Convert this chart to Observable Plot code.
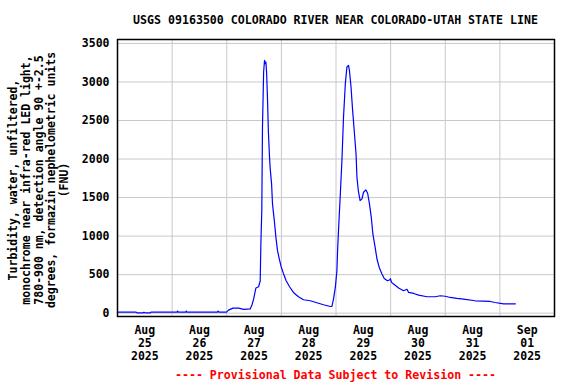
<!DOCTYPE html>
<html><head><meta charset="utf-8">
<script src="https://cdn.jsdelivr.net/npm/d3@7"></script>
<script src="https://cdn.jsdelivr.net/npm/@observablehq/plot@0.6"></script>
<style>
body{margin:0;background:#fff;width:576px;height:384px;overflow:hidden;font-family:"DejaVu Sans Mono",monospace;font-weight:bold;}
#title{height:31px;line-height:40px;font-size:11.6px;margin-left:117px;width:437px;text-align:center;color:#000;white-space:nowrap;}
#caption{height:18px;line-height:18px;font-size:11.6px;margin-left:117px;width:437px;text-align:center;color:#ff0000;white-space:nowrap;}
svg{display:block;}
</style></head>
<body>
<div id="title">USGS 09163500 COLORADO RIVER NEAR COLORADO-UTAH STATE LINE</div>
<div id="chart"></div>
<div id="caption">---- Provisional Data Subject to Revision ----</div>
<script>
// Hours since 2025-08-25 00:00
const hoursFromAug25 = [0, 8.2, 8.7, 11.3, 11.6, 12.2, 14.4, 14.7, 26.2, 26.4, 26.7, 30.0, 30.2, 30.5, 44.0, 44.2, 44.6, 47.9, 48.8, 50.7, 53.2, 55.4, 58.3, 59.1, 59.8, 60.8, 62.0, 62.7, 63.0, 63.4, 63.7, 64.2, 64.6, 64.9, 65.2, 65.5, 65.9, 66.3, 66.8, 67.1, 67.7, 68.1, 68.9, 69.6, 70.3, 71.1, 71.9, 72.9, 74.1, 75.6, 77.3, 79.5, 81.7, 84.7, 87.6, 90.5, 93.5, 94.2, 94.9, 95.7, 96.4, 96.7, 97.1, 97.9, 98.6, 99.3, 100.1, 100.8, 101.5, 101.9, 102.6, 103.3, 104.0, 104.8, 105.2, 105.8, 106.6, 107.4, 108.1, 109.1, 109.9, 110.7, 111.5, 112.2, 113.2, 114.0, 115.0, 116.2, 117.2, 118.6, 119.5, 119.9, 120.4, 121.3, 123.5, 125.7, 127.2, 127.9, 130.1, 132.3, 136.0, 139.6, 141.8, 144.0, 146.2, 149.1, 152.0, 157.2, 163.7, 165.9, 169.6, 174.8];
const turbidityFNU = [14, 14, 3, 5, 12, 3, 3, 14, 14, 27, 14, 14, 27, 14, 14, 27, 14, 14, 40, 66, 66, 50, 55, 109, 183, 326, 343, 421, 906, 1340, 2423, 3129, 3281, 3238, 3259, 3129, 2783, 2349, 2024, 1873, 1678, 1418, 1201, 984, 811, 703, 603, 516, 421, 343, 269, 213, 174, 161, 135, 109, 87, 87, 183, 334, 551, 811, 1071, 1548, 1981, 2544, 2978, 3194, 3216, 3151, 2934, 2631, 2371, 2068, 1764, 1591, 1461, 1483, 1569, 1600, 1556, 1418, 1244, 1028, 854, 703, 594, 508, 451, 421, 430, 447, 400, 378, 326, 291, 310, 269, 256, 235, 213, 213, 226, 220, 204, 191, 183, 161, 152, 139, 122, 122];

const xTickLabels = ["Aug\n25\n2025", "Aug\n26\n2025", "Aug\n27\n2025", "Aug\n28\n2025", "Aug\n29\n2025", "Aug\n30\n2025", "Aug\n31\n2025", "Sep\n01\n2025"];
const yTicks = [0, 500, 1000, 1500, 2000, 2500, 3000, 3500];
const yLabel = "Turbidity, water, unfiltered,\nmonochrome near infra-red LED light,\n780-900 nm, detection angle 90 +-2.5\ndegrees, formazin nephelometric units\n(FNU)";

const start = Date.UTC(2025, 7, 25);
const HOUR = 3600e3;
const data = hoursFromAug25.map((h, i) => ({t: new Date(start + h * HOUR), v: turbidityFNU[i]}));
const dayNoons = xTickLabels.map((_, i) => new Date(start + (i * 24 + 12) * HOUR));
const midnights = d3.range(1, 8).map(i => new Date(start + i * 24 * HOUR));
const labelOf = new Map(dayNoons.map((d, i) => [+d, xTickLabels[i]]));

const chart = Plot.plot({
  width: 576,
  height: 335,
  marginTop: 8,
  marginBottom: 50,
  marginLeft: 117,
  marginRight: 22,
  style: {fontFamily: "'DejaVu Sans Mono', monospace", fontSize: "11.5px", fontWeight: "bold", color: "#000", background: "#fff"},
  x: {type: "utc", domain: [new Date(start), new Date(start + 8 * 24 * HOUR)]},
  y: {domain: [-43, 3551]},
  marks: [
    Plot.gridY(yTicks, {stroke: "#c8c8c8", strokeOpacity: 1, strokeWidth: 1}),
    Plot.gridX(midnights, {stroke: "#c8c8c8", strokeOpacity: 1, strokeWidth: 1}),
    Plot.line(data, {x: "t", y: "v", stroke: "#0000ff", strokeWidth: 1.2}),
    Plot.frame({stroke: "#000", strokeWidth: 1.5}),
    Plot.axisY({ticks: yTicks, tickSize: 0, tickPadding: 8, label: null, tickFormat: d => String(d)}),
    Plot.axisX({ticks: dayNoons, tickSize: 0, tickPadding: 9, label: null, lineHeight: 1.1, tickFormat: d => labelOf.get(+d)}),
    Plot.text([yLabel], {text: d => d, frameAnchor: "left", rotate: -90, dx: -79, dy: 2, fontSize: 11.5, lineHeight: 1.1, textAnchor: "middle"})
  ]
});
document.getElementById("chart").appendChild(chart);
</script>
</body></html>
